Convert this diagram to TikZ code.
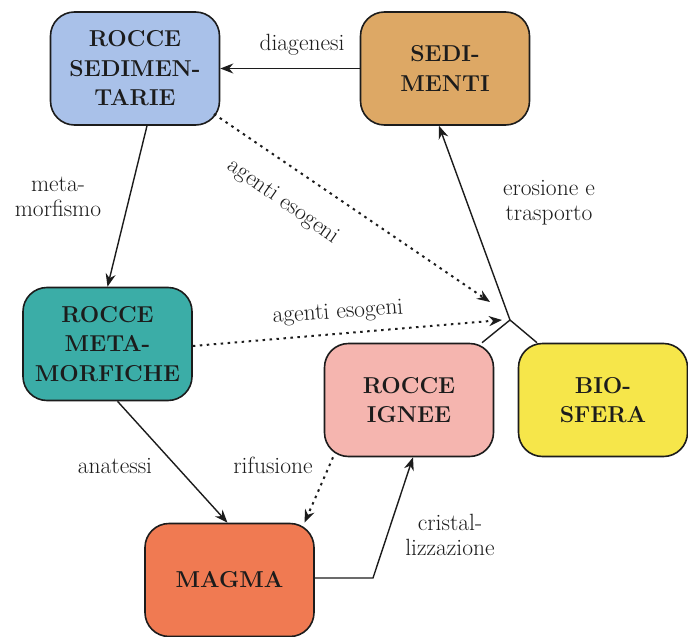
\documentclass[tikz,border=0pt]{standalone}
\usepackage{fontspec}
\usetikzlibrary{arrows.meta}
\definecolor{cSed}{HTML}{A9C1E9}
\definecolor{cSedi}{HTML}{DDA865}
\definecolor{cMeta}{HTML}{3BADA7}
\definecolor{cIgn}{HTML}{F5B5AF}
\definecolor{cBio}{HTML}{F6E64A}
\definecolor{cMag}{HTML}{F07A52}
\definecolor{ink}{HTML}{1C1C1C}
\tikzset{
  rock/.style={draw=ink, line width=1.6pt, rounded corners=24pt, align=center,
    minimum width=169pt, minimum height=113pt, inner sep=0pt,
    font=\fontsize{23}{29.5}\selectfont\bfseries, text=ink},
  lbl/.style={align=center, font=\fontsize{23.5}{25}\selectfont, text=ink, inner sep=0pt},
  conn/.style={draw=ink, line width=1.4pt},
  arr/.style={conn, -{Stealth[length=13pt,width=10pt]}},
  darr/.style={arr, line width=2pt, dash pattern=on 2.5pt off 4.5pt},
}
\begin{document}
\begin{tikzpicture}[x=1pt,y=-1pt]
\useasboundingbox (0,0) rectangle (688,637);
\fill[white] (0,0) rectangle (688,637);
\node[rock, fill=cSed]  (RS)  at (135,68.5)  {ROCCE\\SEDIMEN-\\TARIE};
\node[rock, fill=cSedi] (SED) at (445,68.5)  {SEDI-\\MENTI};
\node[rock, fill=cMeta] (RM)  at (107.5,344) {ROCCE\\META-\\MORFICHE};
\node[rock, fill=cIgn]  (IG)  at (409,400)   {ROCCE\\IGNEE};
\node[rock, fill=cBio]  (BIO) at (603,400)   {BIO-\\SFERA};
\node[rock, fill=cMag]  (MAG) at (229.5,580) {MAGMA};

\coordinate (J) at (510,320);
\coordinate (T1) at (490,302);
\coordinate (T2) at (502,320);
\coordinate (K) at (373,578);

\draw[arr] (SED.west) -- (RS.east);
\draw[arr] ([xshift=12pt]RS.south) -- (RM.north);
\draw[darr] (214,114) -- (T1);
\draw[darr] ([yshift=-2pt]RM.east) -- (T2);
\draw[arr] ([xshift=10pt]RM.south) -- ([xshift=-2pt]MAG.north);
\draw[darr] ([xshift=-76pt]IG.south) -- ([xshift=75pt]MAG.north);
\draw[arr] ([yshift=2pt]MAG.east) -- (K) -- ([xshift=4pt]IG.south);
\draw[conn] ([xshift=73pt]IG.north) -- (J);
\draw[conn] ([xshift=-66pt]BIO.north) -- (J);
\draw[arr] (J) -- ([xshift=-6pt]SED.south);

\node[lbl] (l1) at (302,45) {diagenesi};
\node[lbl] (l2) at (58,197) {meta-\\morfismo};
\node[lbl, rotate=-35] (l3) at (283,202) {agenti esogeni};
\node[lbl, rotate=4] (l4) at (338,313) {agenti esogeni};
\node[lbl] (l5) at (549,203) {erosione e\\trasporto};
\node[lbl] (l6) at (115,466) {anatessi};
\node[lbl] (l7) at (273,465) {rifusione};
\node[lbl] (l8) at (450,535) {cristal-\\lizzazione};
\end{tikzpicture}
\end{document}
